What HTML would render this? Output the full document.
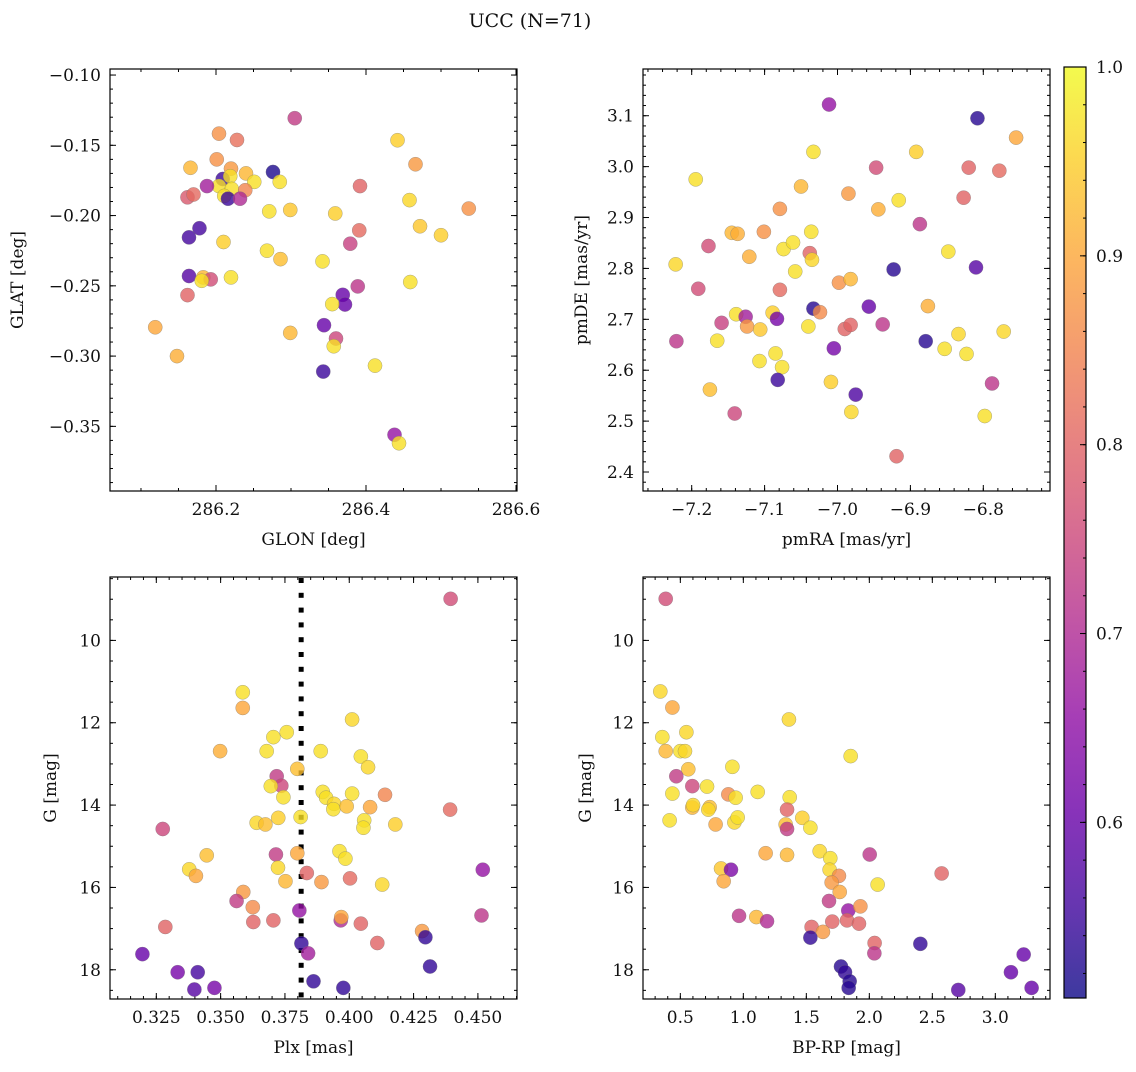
<!DOCTYPE html>
<html><head><meta charset="utf-8"><style>
html,body{margin:0;padding:0;background:#fff;}
svg text{font-family:"DejaVu Serif","Liberation Serif",serif;fill:#111;}
</style></head>
<body>
<svg id="fig" width="1136" height="1067" viewBox="0 0 1136 1067" xmlns="http://www.w3.org/2000/svg">
<text x="530" y="27" font-size="19" text-anchor="middle">UCC (N=71)</text>
</svg>
<script>
// ---------- Panel 1: GLON vs GLAT ----------
const p1_glon=[286.305,286.204,286.228,286.442,286.466,286.166,286.201,286.220,286.240,286.276,286.285,286.251,286.209,286.219,286.204,286.221,286.239,286.188,286.392,286.162,286.170,286.211,286.216,286.232,286.458,286.537,286.271,286.299,286.359,286.472,286.178,286.164,286.210,286.391,286.379,286.500,286.268,286.286,286.342,286.164,286.183,286.193,286.181,286.220,286.459,286.389,286.162,286.369,286.372,286.355,286.119,286.299,286.344,286.360,286.357,286.148,286.412,286.343,286.438,286.444];
const p1_glat=[-0.1307,-0.1417,-0.1462,-0.1464,-0.1635,-0.166,-0.160,-0.1666,-0.170,-0.169,-0.176,-0.176,-0.174,-0.172,-0.179,-0.181,-0.182,-0.179,-0.179,-0.187,-0.185,-0.186,-0.188,-0.188,-0.189,-0.195,-0.197,-0.196,-0.1985,-0.2076,-0.209,-0.2155,-0.2188,-0.2105,-0.220,-0.214,-0.225,-0.231,-0.2326,-0.243,-0.244,-0.2454,-0.2464,-0.244,-0.2473,-0.2504,-0.2566,-0.2564,-0.2633,-0.263,-0.2795,-0.2835,-0.278,-0.2875,-0.293,-0.300,-0.3068,-0.311,-0.356,-0.362];
const p1_prob=[0.73,0.87,0.82,0.95,0.88,0.92,0.87,0.88,0.92,0.52,0.97,0.97,0.55,0.97,0.97,0.97,0.85,0.68,0.80,0.78,0.81,0.97,0.55,0.70,0.96,0.87,0.97,0.94,0.95,0.94,0.56,0.56,0.95,0.81,0.74,0.95,0.97,0.93,0.97,0.58,0.92,0.76,0.97,0.97,0.97,0.72,0.80,0.60,0.60,0.97,0.90,0.92,0.60,0.75,0.97,0.91,0.97,0.55,0.66,0.97];
const p1_xticks=[286.2,286.4,286.6];
const p1_yticks=[-0.10,-0.15,-0.20,-0.25,-0.30,-0.35];
// ---------- Panel 2: pmRA vs pmDE ----------
const p2_pmra=[-7.0116,-6.808,-6.755,-7.033,-6.892,-6.947,-6.820,-6.778,-7.1945,-7.050,-6.985,-6.916,-6.827,-7.079,-6.944,-6.887,-7.145,-7.137,-7.101,-7.036,-7.177,-7.074,-7.061,-7.038,-7.035,-6.848,-7.222,-7.121,-7.058,-6.923,-6.810,-7.191,-7.079,-6.998,-6.982,-6.876,-7.033,-7.024,-6.957,-7.139,-7.126,-7.089,-7.083,-7.159,-7.124,-7.106,-7.040,-6.990,-6.982,-6.938,-7.221,-7.165,-7.005,-6.879,-6.834,-6.853,-6.823,-6.772,-7.107,-7.085,-7.076,-7.082,-7.009,-7.175,-6.975,-6.788,-7.141,-6.981,-6.798,-6.919];
const p2_pmde=[3.122,3.095,3.057,3.029,3.029,2.998,2.998,2.992,2.975,2.961,2.947,2.934,2.939,2.917,2.916,2.887,2.870,2.868,2.872,2.872,2.844,2.838,2.851,2.830,2.817,2.833,2.808,2.823,2.794,2.798,2.802,2.760,2.758,2.772,2.779,2.726,2.721,2.714,2.725,2.710,2.705,2.713,2.701,2.693,2.686,2.680,2.686,2.681,2.689,2.690,2.657,2.658,2.643,2.657,2.671,2.642,2.632,2.676,2.618,2.633,2.606,2.581,2.577,2.562,2.552,2.574,2.515,2.518,2.510,2.431];
const p2_prob=[0.66,0.53,0.90,0.97,0.95,0.76,0.80,0.81,0.97,0.92,0.88,0.97,0.80,0.87,0.91,0.72,0.92,0.91,0.87,0.97,0.76,0.97,0.97,0.80,0.96,0.97,0.96,0.91,0.97,0.53,0.58,0.76,0.81,0.87,0.92,0.91,0.53,0.86,0.60,0.97,0.68,0.95,0.62,0.74,0.88,0.94,0.97,0.80,0.80,0.72,0.72,0.97,0.62,0.53,0.96,0.97,0.97,0.96,0.97,0.97,0.97,0.55,0.95,0.93,0.57,0.72,0.75,0.96,0.97,0.80];
const p2_xticks=[-7.2,-7.1,-7.0,-6.9,-6.8];
const p2_yticks=[2.4,2.5,2.6,2.7,2.8,2.9,3.0,3.1];
// ---------- Panel 3: Plx vs G ----------
const p3_plx=[0.4394,0.3586,0.3586,0.4011,0.3498,0.3705,0.3757,0.3679,0.3889,0.4045,0.4073,0.3798,0.3718,0.3736,0.3695,0.3744,0.3897,0.3910,0.3941,0.3938,0.3990,0.4011,0.4081,0.4139,0.4392,0.3640,0.3674,0.3724,0.3811,0.4058,0.4055,0.4179,0.3275,0.3446,0.3715,0.3798,0.3962,0.3985,0.3378,0.3404,0.3723,0.3752,0.3835,0.3892,0.4003,0.4128,0.4519,0.3588,0.3562,0.3625,0.3627,0.3705,0.3806,0.3967,0.3969,0.4045,0.4514,0.3285,0.4283,0.4296,0.4109,0.3814,0.3840,0.3196,0.4314,0.3333,0.3411,0.3861,0.3398,0.3476,0.3977];
const p3_g=[8.99,11.26,11.64,11.92,12.69,12.35,12.23,12.69,12.69,12.82,13.08,13.12,13.30,13.53,13.54,13.81,13.68,13.82,13.97,14.10,14.03,13.72,14.05,13.75,14.11,14.43,14.47,14.31,14.29,14.37,14.55,14.47,14.58,15.22,15.20,15.17,15.12,15.30,15.56,15.72,15.52,15.85,15.65,15.87,15.78,15.93,15.57,16.11,16.33,16.48,16.84,16.80,16.56,16.80,16.72,16.88,16.68,16.96,17.06,17.21,17.35,17.36,17.60,17.62,17.92,18.06,18.06,18.28,18.48,18.44,18.44];
const p3_prob=[0.76,0.97,0.90,0.96,0.91,0.97,0.97,0.97,0.97,0.97,0.96,0.93,0.73,0.75,0.97,0.97,0.97,0.97,0.96,0.97,0.93,0.97,0.90,0.85,0.81,0.96,0.93,0.95,0.97,0.97,0.97,0.95,0.75,0.93,0.73,0.90,0.97,0.97,0.96,0.90,0.96,0.92,0.80,0.88,0.81,0.96,0.66,0.88,0.73,0.86,0.80,0.80,0.66,0.70,0.90,0.80,0.72,0.80,0.88,0.54,0.80,0.54,0.68,0.60,0.54,0.62,0.56,0.54,0.58,0.62,0.54];
const p3_xticks=[0.325,0.350,0.375,0.400,0.425,0.450];
const p3_yticks=[10,12,14,16,18];
const p3_plx_median=[0.3813];
// ---------- Panel 4: BP-RP vs G ----------
const p4_bprp=[0.384,0.341,0.437,1.362,0.357,0.548,0.384,0.500,0.537,1.852,0.563,0.913,0.468,0.595,0.712,0.437,0.881,0.939,1.114,1.368,0.595,0.601,0.733,0.722,1.347,0.415,0.780,0.929,0.955,1.336,1.347,1.468,1.532,1.177,1.347,1.606,2.003,1.690,0.823,0.902,0.844,1.685,1.759,1.701,1.765,2.066,2.574,1.680,1.833,1.929,0.966,1.103,1.188,1.706,1.823,1.918,1.542,1.632,1.532,2.042,2.040,2.405,3.225,1.775,1.807,1.844,1.836,3.124,2.706,3.288];
const p4_g=[8.99,11.24,11.63,11.92,12.35,12.23,12.69,12.69,12.69,12.81,13.13,13.07,13.30,13.54,13.55,13.72,13.74,13.82,13.68,13.81,14.06,14.00,14.05,14.11,14.11,14.37,14.47,14.42,14.30,14.47,14.58,14.31,14.55,15.17,15.21,15.12,15.20,15.29,15.54,15.57,15.85,15.57,15.72,15.88,16.11,15.93,15.66,16.33,16.56,16.46,16.69,16.72,16.82,16.83,16.80,16.88,16.96,17.08,17.22,17.35,17.60,17.37,17.63,17.92,18.06,18.28,18.44,18.06,18.49,18.44];
const p4_prob=[0.76,0.96,0.90,0.96,0.97,0.96,0.92,0.97,0.96,0.97,0.93,0.97,0.73,0.75,0.97,0.97,0.86,0.97,0.97,0.97,0.92,0.96,0.93,0.96,0.80,0.97,0.90,0.96,0.97,0.93,0.73,0.95,0.97,0.90,0.92,0.96,0.72,0.97,0.94,0.63,0.90,0.96,0.86,0.88,0.90,0.97,0.80,0.73,0.66,0.87,0.72,0.92,0.70,0.80,0.80,0.80,0.80,0.88,0.54,0.80,0.72,0.54,0.60,0.53,0.54,0.53,0.53,0.60,0.58,0.60];
const p4_xticks=[0.5,1.0,1.5,2.0,2.5,3.0];
const p4_yticks=[10,12,14,16,18];
// ---------- Colorbar ----------
const cb_ticks=[0.6,0.7,0.8,0.9,1.0];
const cb_range=[0.507,1.0];

const NS="http://www.w3.org/2000/svg";
const svg=document.getElementById('fig');
function mk(tag,attrs,parent){const e=document.createElementNS(NS,tag);for(const k in attrs)e.setAttribute(k,attrs[k]);(parent||svg).appendChild(e);return e;}

const plasma=[[13,8,135],[65,4,157],[106,0,168],[143,13,164],[177,42,144],[204,71,120],[225,100,98],[242,132,75],[252,166,54],[252,206,37],[240,249,33]];
function cmap(t){t=Math.max(0,Math.min(1,t));const s=t*10,i=Math.min(9,Math.floor(s)),f=s-i;const a=plasma[i],b=plasma[i+1];
return 'rgb('+[0,1,2].map(k=>Math.round(a[k]+(b[k]-a[k])*f)).join(',')+')';}
function probColor(p){return cmap((p-cb_range[0])/(cb_range[1]-cb_range[0]));}

function fmt(v,d){let s=v.toFixed(d);return s.replace('-','\u2212');}

function panel(cfg){
  const g=mk('g',{});
  
  
  const {L,T,W,H,xmin,xmax,ymin,ymax,yinv}=cfg;
  const sx=v=>L+(v-xmin)/(xmax-xmin)*W;
  const sy=v=>yinv? T+(v-ymin)/(ymax-ymin)*H : T+H-(v-ymin)/(ymax-ymin)*H;
  const tk=mk('g',{stroke:'#000','stroke-width':1},g);
  
  
  const eps=1e-9;
  for(let v=Math.ceil(xmin/cfg.xminor-eps)*cfg.xminor; v<=xmax+eps; v+=cfg.xminor){
    const x=sx(v); mk('line',{x1:x,x2:x,y1:T+H,y2:T+H-3},tk); mk('line',{x1:x,x2:x,y1:T,y2:T+3},tk);}
  for(let v=Math.ceil(ymin/cfg.yminor-eps)*cfg.yminor; v<=ymax+eps; v+=cfg.yminor){
    const y=sy(v); mk('line',{x1:L,x2:L+3,y1:y,y2:y},tk); mk('line',{x1:L+W,x2:L+W-3,y1:y,y2:y},tk);}
  cfg.xticks.forEach(v=>{const x=sx(v);mk('line',{x1:x,x2:x,y1:T+H,y2:T+H-6},tk);mk('line',{x1:x,x2:x,y1:T,y2:T+6},tk);
    const t=mk('text',{x:x,y:T+H+24,'font-size':17,'text-anchor':'middle'},g);t.textContent=fmt(v,cfg.xd);
    
    });
  cfg.yticks.forEach(v=>{const y=sy(v);mk('line',{x1:L,x2:L+6,y1:y,y2:y},tk);mk('line',{x1:L+W,x2:L+W-6,y1:y,y2:y},tk);
    const t=mk('text',{x:L-9,y:y+6,'font-size':17,'text-anchor':'end'},g);t.textContent=fmt(v,cfg.yd);
    
    });
  if(cfg.vline){cfg.vline.forEach(v=>{const x=sx(v);
    const vg=mk('g',{fill:'#000'},g);
    
    
    for(let y=T+1;y<T+H;y+=14.8){mk('rect',{x:x-2.5,y:y,width:5,height:Math.min(5,T+H-y)},vg);}
  });}
  const pts=mk('g',{},g);
  
  
  cfg.xs.forEach((xv,i)=>{const c=mk('circle',{cx:sx(xv),cy:sy(cfg.ys[i]),r:7.1,fill:probColor(cfg.ps[i]),'fill-opacity':0.8,stroke:'#777','stroke-opacity':0.6,'stroke-width':0.5},pts);
    
    });
  const fr=mk('rect',{x:L,y:T,width:W,height:H,fill:'none',stroke:'#000','stroke-width':1.2},g);
  
  
  const xl=mk('text',{x:L+W/2,y:T+H+54,'font-size':17,'text-anchor':'middle'},g);xl.textContent=cfg.xlabel;
  
  
  const yl=mk('text',{x:0,y:0,'font-size':17,'text-anchor':'middle',transform:'translate('+cfg.ylx+','+(T+H/2)+') rotate(-90)'},g);yl.textContent=cfg.ylabel;
  
  
}

panel({name:'glon-glat-panel',L:110,T:69,W:407,H:422,xmin:286.0587,xmax:286.6013,ymin:-0.3960,ymax:-0.0957,xminor:0.05,yminor:0.01,xticks:p1_xticks,yticks:p1_yticks,xd:1,yd:2,xs:p1_glon,ys:p1_glat,ps:p1_prob,xlabel:'GLON [deg]',ylabel:'GLAT [deg]',ylx:23});
panel({name:'pm-panel',L:643,T:69,W:407,H:422,xmin:-7.2668,xmax:-6.7085,ymin:2.3627,ymax:3.1918,xminor:0.02,yminor:0.02,xticks:p2_xticks,yticks:p2_yticks,xd:1,yd:1,xs:p2_pmra,ys:p2_pmde,ps:p2_prob,xlabel:'pmRA [mas/yr]',ylabel:'pmDE [mas/yr]',ylx:587});
panel({name:'plx-g-panel',L:110,T:577,W:407,H:422,xmin:0.3070,xmax:0.4652,ymin:8.46,ymax:18.71,yinv:true,xminor:0.005,yminor:0.5,xticks:p3_xticks,yticks:p3_yticks,xd:3,yd:0,xs:p3_plx,ys:p3_g,ps:p3_prob,xlabel:'Plx [mas]',ylabel:'G [mag]',ylx:56,vline:p3_plx_median});
panel({name:'cmd-panel',L:643,T:577,W:407,H:422,xmin:0.2037,xmax:3.434,ymin:8.46,ymax:18.71,yinv:true,xminor:0.1,yminor:0.5,xticks:p4_xticks,yticks:p4_yticks,xd:1,yd:0,xs:p4_bprp,ys:p4_g,ps:p4_prob,xlabel:'BP-RP [mag]',ylabel:'G [mag]',ylx:591});

(function(){
  const L=1064,T=67,W=22,H=931;
  const cb=mk('g',{});
  
  
  const defs=mk('defs',{},cb);
  const lg=mk('linearGradient',{id:'cbg',x1:0,y1:1,x2:0,y2:0},defs);
  for(let i=0;i<=20;i++){mk('stop',{offset:(i/20),'stop-color':cmap(i/20),'stop-opacity':0.8},lg);}
  mk('rect',{x:L,y:T,width:W,height:H,fill:'url(#cbg)'},cb);
  const sy=v=>T+H-(v-cb_range[0])/(cb_range[1]-cb_range[0])*H;
  for(let v=0.52;v<=1.0001;v+=0.02){const y=sy(v);mk('line',{x1:L+W,x2:L+W-3,y1:y,y2:y,stroke:'#000'},cb);}
  cb_ticks.forEach(v=>{const y=sy(v);mk('line',{x1:L+W,x2:L+W-6,y1:y,y2:y,stroke:'#000'},cb);
    const t=mk('text',{x:L+W+10,y:y+6,'font-size':17},cb);t.textContent=v.toFixed(1);
    
    });
  mk('rect',{x:L,y:T,width:W,height:H,fill:'none',stroke:'#000','stroke-width':1.2},cb);
})();
</script>
</body></html>
